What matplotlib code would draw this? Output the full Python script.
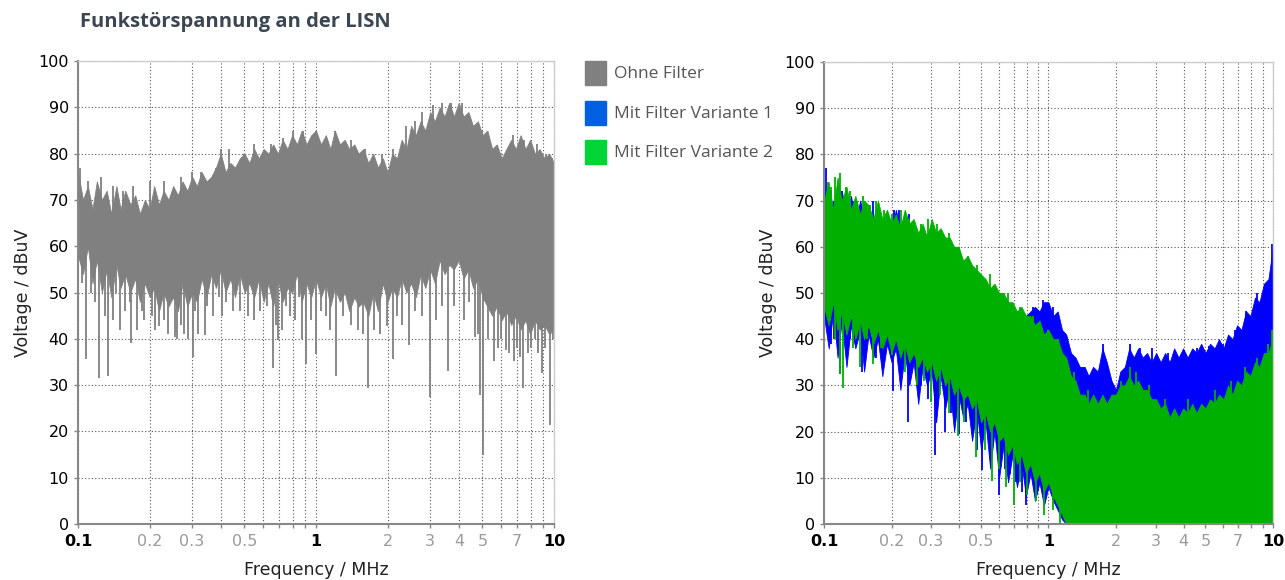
import matplotlib.pyplot as plt
import numpy as np
from matplotlib.patches import Rectangle

# ---- data (MHz / dBuV) ----
# common frequency grid of the envelope readings
freq = [0.1, 0.105, 0.11, 0.115, 0.12, 0.126, 0.132, 0.138, 0.145, 0.151,
        0.158, 0.166, 0.174, 0.182, 0.191, 0.2, 0.209, 0.219, 0.229, 0.24,
        0.251, 0.263, 0.275, 0.288, 0.302, 0.316, 0.331, 0.347, 0.363, 0.38,
        0.398, 0.417, 0.437, 0.457, 0.479, 0.501, 0.525, 0.55, 0.575, 0.603,
        0.631, 0.661, 0.692, 0.724, 0.759, 0.794, 0.832, 0.871, 0.912, 0.955,
        1.0, 1.05, 1.1, 1.15, 1.2, 1.26, 1.32, 1.38, 1.45, 1.51,
        1.58, 1.66, 1.74, 1.82, 1.91, 2.0, 2.09, 2.19, 2.29, 2.4,
        2.51, 2.63, 2.75, 2.88, 3.02, 3.16, 3.31, 3.47, 3.63, 3.8,
        3.98, 4.17, 4.37, 4.57, 4.79, 5.01, 5.25, 5.5, 5.75, 6.03,
        6.31, 6.61, 6.92, 7.24, 7.59, 7.94, 8.32, 8.71, 9.12, 9.55,
        10.0]

# left chart: "Ohne Filter"
gray_top = [76, 70, 73, 68, 74, 70, 72, 67, 73, 68,
            72, 69, 71, 67, 70, 68, 73, 69, 72, 70,
            73, 71, 74, 72, 75, 73, 76, 74, 75, 77,
            80, 76, 78, 77, 79, 80, 78, 81, 79, 81,
            80, 82, 80, 83, 81, 84, 82, 85, 82, 84,
            85, 82, 84, 81, 85, 82, 83, 81, 82, 80,
            81, 78, 80, 77, 79, 76, 80, 79, 83, 81,
            86, 84, 87, 85, 89, 87, 90, 88, 91, 88,
            91, 88, 89, 86, 87, 84, 85, 81, 82, 79,
            81, 83, 81, 84, 81, 83, 80, 81, 79, 80,
            78]
gray_bot = [58, 54, 60, 52, 57, 50, 55, 49, 56, 51,
            54, 50, 53, 48, 52, 49, 51, 46, 50, 47,
            49, 46, 52, 47, 50, 48, 53, 49, 54, 51,
            55, 50, 53, 49, 54, 50, 52, 49, 53, 48,
            52, 47, 53, 48, 51, 50, 54, 48, 52, 49,
            53, 49, 52, 47, 51, 48, 50, 46, 49, 47,
            48, 45, 50, 46, 52, 48, 51, 49, 53, 50,
            52, 49, 54, 51, 55, 52, 57, 54, 56, 55,
            57, 53, 55, 51, 53, 49, 47, 45, 47, 44,
            46, 43, 45, 42, 44, 41, 44, 42, 43, 41,
            42]
gray_up_f = [0.102, 0.11, 0.125, 0.14, 0.155, 0.17, 0.2, 0.23, 0.27, 0.3, 0.33, 0.38,
             0.4, 0.43, 0.5, 0.55, 0.65, 0.73, 0.8, 0.88, 1.0, 1.2, 1.4, 1.6, 1.9,
             2.1, 2.4, 2.6, 2.8, 3.1, 3.4, 3.7, 4.1, 4.4, 5.0, 5.8, 6.7, 7.5, 8.5,
             9.3, 9.8]
gray_up_v = [77, 74, 75, 73, 72, 73, 74, 74, 75, 76, 76, 77,
             81, 81, 80, 82, 82, 83.5, 85, 85, 85, 85, 83, 81, 80,
             81, 86, 87, 89, 90.5, 91, 91, 91, 88, 85, 81, 84, 83, 82,
             80, 79]
gray_dn_f = [0.104, 0.108, 0.113, 0.118, 0.123, 0.13, 0.134, 0.14, 0.145, 0.15, 0.158,
             0.165, 0.167, 0.177, 0.185, 0.19, 0.205, 0.21, 0.22, 0.23, 0.24, 0.255,
             0.26, 0.27, 0.28, 0.29, 0.303, 0.31, 0.32, 0.343, 0.35, 0.37, 0.39,
             0.404, 0.42, 0.45, 0.48, 0.52, 0.55, 0.58, 0.62, 0.66, 0.68, 0.695,
             0.72, 0.75, 0.78, 0.82, 0.85, 0.87, 0.91, 0.95, 1.0, 1.05, 1.1, 1.15,
             1.21, 1.3, 1.4, 1.5, 1.58, 1.65, 1.75, 1.85, 1.99, 2.1, 2.2, 2.3,
             2.46, 2.6, 2.8, 3.0, 3.2, 3.4, 3.57, 3.8, 4.2, 4.4, 4.65, 4.8, 4.9,
             5.05, 5.3, 5.6, 5.8, 6.0, 6.3, 6.5, 6.8, 7.0, 7.2, 7.4, 7.8, 8.0,
             8.3, 8.6, 8.9, 9.2, 9.6, 9.9]
gray_dn_v = [52, 35.6, 50, 48, 31.5, 45, 32, 44, 50, 42, 46,
             48, 39, 42, 46, 44, 45, 42, 42.7, 44, 41, 40.3,
             40, 43, 41, 40, 36, 46, 41, 40.8, 47, 45, 49,
             45, 48, 46, 46, 45, 44, 46, 47, 33.7, 43, 39.7,
             42, 47, 45, 44, 49, 40, 34.5, 44, 36.7, 46, 45, 42,
             32, 45, 43, 42, 41, 29.3, 42, 41, 42.7, 35.6, 45, 43,
             38.6, 46, 45, 27.4, 44, 47, 33, 47, 44, 48, 40.4, 41, 27.8,
             15, 40, 35.2, 38, 40, 37.5, 37, 35.2, 38, 36, 29.3, 37, 38,
             40, 37, 32.6, 38, 21.4, 40]

# right chart: "Mit Filter Variante 1" (blue)
blue_top = [72, 68, 70, 66, 72, 67, 71, 65, 70, 66,
            68, 64, 69, 64, 66, 63, 68, 64, 67, 63,
            64, 62, 64, 61, 63, 61, 62, 59, 60, 57,
            57, 55, 55, 53, 52, 51, 50, 49, 49, 47,
            47, 46, 46, 45, 46, 45, 46, 47, 46, 48,
            48, 45, 46, 42, 41, 37, 36, 34, 34, 32,
            34, 33, 38, 35, 31, 29, 33, 34, 38, 36,
            38, 36, 37, 35, 37, 35, 37, 35, 38, 36,
            38, 36, 38, 37, 39, 37, 39, 38, 40, 38,
            41, 40, 43, 42, 46, 45, 49, 48, 52, 53,
            60]
blue_bot = [45, 38, 46, 36, 44, 34, 43, 38, 42, 33,
            41, 36, 40, 32, 39, 35, 38, 29, 37, 30,
            35, 26, 34, 30, 33, 22, 32, 25, 30, 20,
            28, 23, 26, 18, 25, 16, 22, 12, 20, 10,
            17, 9, 15, 8, 13, 6, 11, 5, 9, 4,
            8, 5, 3, 1, 0, 0, 0, 0, 0, 0,
            0, 0, 0, 0, 0, 0, 0, 0, 0, 0,
            0, 0, 0, 0, 0, 0, 0, 0, 0, 0,
            0, 0, 0, 0, 0, 0, 0, 0, 0, 0,
            0, 0, 0, 0, 0, 0, 0, 0, 0, 0,
            0]
blue_up_f = [0.102, 0.107, 0.12, 0.135, 0.165, 0.205, 0.215, 0.24, 0.85, 0.95, 1.05,
             1.75, 2.3, 2.55, 2.9, 3.4, 4.0, 4.6, 5.2, 6.0, 6.8, 7.6, 8.5, 9.2, 9.9]
blue_up_v = [77, 72, 72, 70, 70, 68, 68, 67, 47, 48.5, 47,
             39, 39, 38, 38, 37, 37.5, 38, 38.5, 39, 42, 46, 50, 52, 60.5]
blue_dn_f = [0.103, 0.107, 0.111, 0.118, 0.13, 0.147, 0.17, 0.203, 0.22, 0.236, 0.271,
             0.29, 0.312, 0.346, 0.37, 0.4, 0.43, 0.454, 0.48, 0.505, 0.55, 0.6,
             0.64, 0.675, 0.72, 0.76, 0.795, 0.875]
blue_dn_v = [44, 39, 40, 32.5, 40, 33, 36, 28.7, 30, 22, 30,
             27, 15, 20, 24, 19.4, 22, 22.8, 16, 11.6, 14, 6.3,
             12, 10.8, 9, 7, 4, 11.6]

# right chart: "Mit Filter Variante 2" (green)
green_top = [70, 74, 68, 75, 70, 73, 68, 71, 67, 70,
             69, 66, 70, 66, 68, 65, 67, 64, 68, 65,
             66, 63, 65, 62, 66, 63, 64, 62, 62, 60,
             60, 57, 58, 56, 55, 54, 53, 51, 52, 50,
             50, 48, 48, 46, 47, 45, 45, 43, 44, 41,
             42, 40, 40, 37, 36, 32, 31, 28, 28, 26,
             28, 26, 28, 26, 28, 28, 30, 30, 32, 30,
             31, 29, 29, 27, 27, 25, 26, 23, 25, 23,
             25, 24, 26, 24, 26, 25, 27, 26, 28, 27,
             30, 28, 31, 30, 33, 32, 35, 34, 37, 37,
             40]
green_bot = [47, 43, 48, 42, 46, 41, 45, 40, 44, 40,
             43, 39, 42, 38, 41, 37, 40, 36, 39, 35,
             37, 34, 36, 33, 35, 31, 34, 30, 32, 28,
             30, 27, 28, 25, 27, 22, 24, 20, 22, 18,
             19, 15, 17, 13, 15, 11, 13, 9, 11, 7,
             9, 6, 4, 2, 0, 0, 0, 0, 0, 0,
             0, 0, 0, 0, 0, 0, 0, 0, 0, 0,
             0, 0, 0, 0, 0, 0, 0, 0, 0, 0,
             0, 0, 0, 0, 0, 0, 0, 0, 0, 0,
             0, 0, 0, 0, 0, 0, 0, 0, 0, 0,
             0]
green_up_f = [0.101, 0.104, 0.108, 0.112, 0.118, 0.125, 0.13, 0.14, 0.15, 0.16, 0.17,
              0.185, 0.2, 0.22, 0.24, 0.27, 0.29, 0.32, 0.36, 0.4, 0.44, 0.48, 0.55,
              0.62, 0.66, 0.75, 0.85, 1.0, 1.1, 1.3, 1.5, 2.1, 2.3, 2.45, 2.8, 3.3,
              4.2, 5.5, 6.5, 7.5, 8.5, 9.5, 9.9]
green_up_v = [70, 74, 73, 75, 76, 73, 72, 70, 71, 69, 70,
              68, 67, 68, 66, 65, 66, 65, 63, 60, 58, 56, 54,
              50, 50, 47, 45, 42, 40, 33, 29, 31, 34, 33, 30, 27,
              27, 29, 31, 34, 36, 39, 42]
green_dn_f = [0.105, 0.112, 0.118, 0.122, 0.135, 0.145, 0.155, 0.166, 0.18, 0.2, 0.23,
              0.26, 0.28, 0.3, 0.33, 0.36, 0.395, 0.42, 0.476, 0.52, 0.56, 0.6, 0.65,
              0.7, 0.75, 0.8, 0.88, 0.96, 1.05, 1.13]
green_dn_v = [45, 40, 32.5, 29.5, 38, 34, 40, 34.7, 38, 36.6, 33,
              30, 31, 26.5, 28, 24, 19, 22, 14.5, 16, 9.3, 12, 8,
              4, 9, 6.3, 5, 1.9, 3, 0]

x_grid = [0.2, 0.3, 0.4, 0.5, 0.6, 0.7, 0.8, 0.9, 2, 3, 4, 5, 6, 7, 8, 9]
x_ticks = [0.1, 0.2, 0.3, 0.5, 1, 2, 3, 4, 5, 7, 10]
x_labels = ["0.1", "0.2", "0.3", "0.5", "1", "2", "3", "4", "5", "7", "10"]
x_major = ["0.1", "1", "10"]

series_names = ["Ohne Filter", "Mit Filter Variante 1", "Mit Filter Variante 2"]
legend_colors = ["#808080", "#0060e0", "#00d436"]

GRAY = "#808080"
BLUE = "#0000ff"
GREEN = "#00b000"


def draw_band(ax, top, bot, up_f, up_v, dn_f, dn_v, color):
    ax.fill_between(freq, bot, top, color=color, lw=0.6, edgecolor=color, zorder=2)
    # spikes start inside the band
    lf = np.log10(freq)
    mid = (np.array(top) + np.array(bot)) / 2
    base_up = np.interp(np.log10(up_f), lf, mid)
    base_dn = np.interp(np.log10(dn_f), lf, mid)
    ax.vlines(up_f, base_up, up_v, color=color, lw=1.3, zorder=2)
    ax.vlines(dn_f, dn_v, base_dn, color=color, lw=1.3, zorder=2)


def style_axes(ax):
    ax.set_xscale("log")
    ax.set_xlim(0.1, 10)
    ax.set_ylim(0, 100)
    ax.set_yticks(range(0, 101, 10))
    ax.set_xticks(x_grid, minor=True)
    ax.set_xticks(x_ticks)
    ax.set_xticklabels(x_labels)
    ax.xaxis.set_minor_formatter(plt.NullFormatter())
    for lab in ax.get_xticklabels():
        if lab.get_text() in x_major:
            lab.set_color("black")
            lab.set_fontweight("bold")
        else:
            lab.set_color("#9a9a9a")
    ax.tick_params(axis="both", which="both", labelsize=11.5, length=3,
                   color="#888888", width=1)
    ax.tick_params(axis="x", pad=4)
    ax.grid(True, which="both", color="#555555", linestyle=(0, (1, 2)), lw=0.8)
    ax.set_axisbelow(True)
    for side in ["left", "bottom"]:
        ax.spines[side].set_color("#888888")
        ax.spines[side].set_linewidth(1.5)
    for side in ["top", "right"]:
        ax.spines[side].set_color("#cccccc")
        ax.spines[side].set_linewidth(1)
    ax.set_xlabel("Frequency / MHz", fontsize=12.5, color="#222222", labelpad=9)
    ax.set_ylabel("Voltage / dBuV", fontsize=12.5, color="#222222", labelpad=5)


fig = plt.figure(figsize=(12.85, 5.8), dpi=100)
ax1 = fig.add_axes([0.0607, 0.0966, 0.3704, 0.798])
ax2 = fig.add_axes([0.6412, 0.0966, 0.3494, 0.7966])

draw_band(ax1, gray_top, gray_bot, gray_up_f, gray_up_v, gray_dn_f, gray_dn_v, GRAY)
draw_band(ax2, blue_top, blue_bot, blue_up_f, blue_up_v, blue_dn_f, blue_dn_v, BLUE)
draw_band(ax2, green_top, green_bot, green_up_f, green_up_v, green_dn_f, green_dn_v, GREEN)

style_axes(ax1)
style_axes(ax2)

fig.text(80 / 1285, 1 - 22 / 580, "Funkstörspannung an der LISN", fontsize=14.5,
         fontweight="bold", family="Open Sans", color="#3b4650", va="center")

# legend, drawn by hand
for i, (name, c) in enumerate(zip(series_names, legend_colors)):
    yc = 73 + i * 39.5
    fig.patches.append(Rectangle((585 / 1285, 1 - (yc + 12) / 580), 21 / 1285, 24 / 580,
                                 transform=fig.transFigure, color=c))
    fig.text(614 / 1285, 1 - (yc + 1) / 580, name, fontsize=12.5, family="Open Sans",
             color="#555555", va="center")

fig.savefig("out.png", dpi=100)
